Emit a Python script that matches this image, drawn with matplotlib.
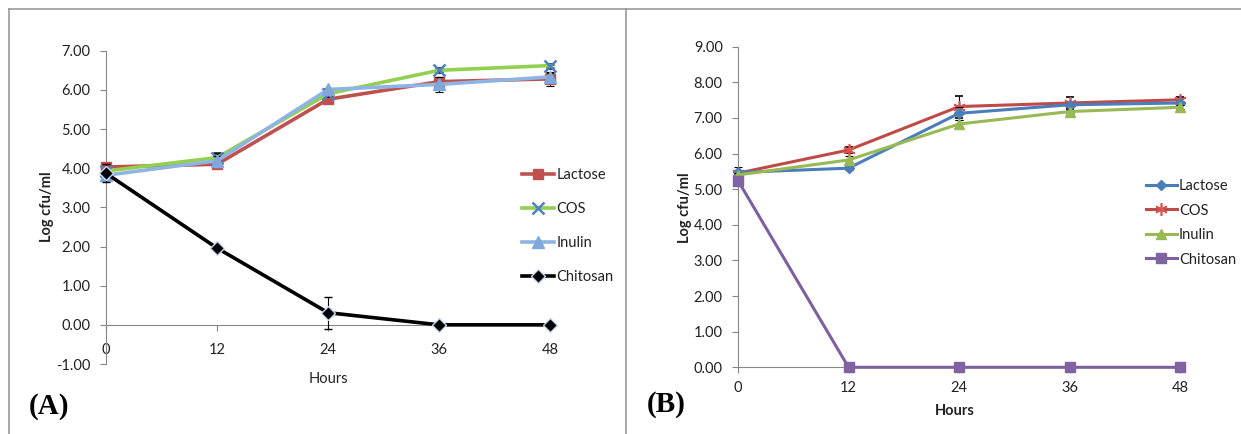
import matplotlib
matplotlib.use("Agg")
import matplotlib.pyplot as plt
from matplotlib.lines import Line2D
import numpy as np

plt.rcParams['font.family'] = ['Lato', 'DejaVu Sans']

hours = [0, 12, 24, 36, 48]
x_ticks = [0, 12, 24, 36, 48]

# Panel A
a_lactose = [4.03, 4.10, 5.76, 6.21, 6.28]
a_cos = [3.93, 4.27, 5.90, 6.50, 6.62]
a_inulin = [3.82, 4.19, 6.01, 6.14, 6.33]
a_chitosan = [3.87, 1.96, 0.31, 0.00, 0.00]
a_lactose_err = [0.05, 0.05, 0.08, 0.10, 0.18]
a_cos_err = [0.05, 0.12, 0.05, 0.05, 0.05]
a_inulin_err = [0.05, 0.12, 0.05, 0.19, 0.10]
a_chitosan_err = [0.23, 0.05, 0.41, 0.00, 0.00]
a_yticks = [-1, 0, 1, 2, 3, 4, 5, 6, 7]

# Panel B
b_lactose = [5.47, 5.59, 7.13, 7.37, 7.42]
b_cos = [5.45, 6.10, 7.32, 7.42, 7.51]
b_inulin = [5.40, 5.82, 6.83, 7.18, 7.30]
b_chitosan = [5.24, 0.00, 0.00, 0.00, 0.00]
b_lactose_err = [0.15, 0.05, 0.18, 0.05, 0.05]
b_cos_err = [0.05, 0.08, 0.31, 0.18, 0.08]
b_inulin_err = [0.05, 0.10, 0.10, 0.05, 0.05]
b_chitosan_err = [0.05, 0.0, 0.0, 0.0, 0.0]
b_yticks = [0, 1, 2, 3, 4, 5, 6, 7, 8, 9]

labels = ['Lactose', 'COS', 'Inulin', 'Chitosan']

W, H = 1241, 434
fig = plt.figure(figsize=(W / 100, H / 100), dpi=100)

def fx(px):
    return px / W

def fy(py):
    return 1 - py / H

SPINE = '#868686'
TICKFS = 10.5

def style_axes(ax, ylim, yticks, xpad):
    ax.set_xlim(0, 48.3)
    ax.set_ylim(*ylim)
    ax.set_yticks(yticks)
    ax.set_yticklabels([f"{v:.2f}" for v in yticks])
    ax.set_xticks(x_ticks)
    ax.set_xticklabels([str(v) for v in x_ticks])
    for s in ['top', 'right']:
        ax.spines[s].set_visible(False)
    ax.spines['left'].set_color(SPINE)
    ax.spines['bottom'].set_color(SPINE)
    ax.spines['left'].set_linewidth(0.8)
    ax.spines['bottom'].set_linewidth(0.8)
    ax.spines['bottom'].set_position(('data', 0))
    ax.tick_params(axis='both', direction='out', length=4, width=0.8,
                   color=SPINE, labelsize=TICKFS, labelcolor='#222222')
    ax.tick_params(axis='y', pad=7)
    ax.tick_params(axis='x', pad=xpad)
    ax.set_facecolor('none')

ekw = dict(ecolor='black', elinewidth=0.8, capsize=3, capthick=0.8)

def unclip(container):
    container[0].set_clip_on(False)
    for a in container[1]:
        a.set_clip_on(False)
    for a in container[2]:
        a.set_clip_on(False)
    return container

# ---------- Panel A ----------
axA = fig.add_axes([fx(106), fy(364), fx(553 - 106), (364 - 50.7) / H])
style_axes(axA, (-1, 7), a_yticks, 9)
lwA = 2.6
cA = []
cA.append(axA.errorbar(hours, a_lactose, yerr=a_lactose_err, color='#C0504D', lw=lwA,
             marker='s', ms=7, mfc='#C0504D', mec='#C0504D', zorder=3, **ekw))
cA.append(axA.errorbar(hours, a_cos, yerr=a_cos_err, color='#92D050', lw=lwA,
             marker='x', ms=8, mew=1.8, mec='#4F81BD', zorder=4, **ekw))
cA.append(axA.errorbar(hours, a_inulin, yerr=a_inulin_err, color='#8EB4E3', lw=lwA,
             marker='^', ms=8, mfc='#7FA7DA', mec='#7FA7DA', zorder=5, **ekw))
cA.append(axA.errorbar(hours, a_chitosan, yerr=a_chitosan_err, color='black', lw=lwA,
             marker='D', ms=7, mfc='black', mec='#C6D9F1', mew=1.0, zorder=6, **ekw))
for c in cA:
    unclip(c)

legA = fig.legend([c[0] for c in cA], labels, loc='upper left', bbox_to_anchor=(fx(522), fy(168)),
                  frameon=False, fontsize=10.5, handlelength=2.2, handletextpad=0.15,
                  labelspacing=1.38, borderpad=0, borderaxespad=0)
for t in legA.get_texts():
    t.set_color('#222222')

fig.text(fx(328), fy(379), 'Hours', ha='center', va='center', fontsize=10.5, color='#222222')
fig.text(fx(47), fy(207), 'Log cfu/ml', ha='center', va='center', rotation=90,
         fontsize=10.5, fontweight='bold', color='#222222')
fig.text(fx(49), fy(407), '(A)', ha='center', va='center', fontsize=21,
         fontweight='bold', family=['Liberation Serif', 'DejaVu Serif'])

# ---------- Panel B ----------
axB = fig.add_axes([fx(738), fy(367.3), fx(1183 - 738), 320.6 / H])
style_axes(axB, (0, 9), b_yticks, 6)
lwB = 2.2
cB = []
cB.append(axB.errorbar(hours, b_lactose, yerr=b_lactose_err, color='#4A7EBB', lw=lwB,
             marker='D', ms=5, mfc='#4A7EBB', mec='#4A7EBB', zorder=4, **ekw))
cB.append(axB.errorbar(hours, b_cos, yerr=b_cos_err, color='#BE4B48', lw=lwB,
             marker=(6, 2, 0), ms=9, mew=1.2, mec='#D9534F', zorder=3, **ekw))
cB.append(axB.errorbar(hours, b_inulin, yerr=b_inulin_err, color='#98B954', lw=lwB,
             marker='^', ms=7, mfc='#98B954', mec='#98B954', zorder=5, **ekw))
cB.append(axB.errorbar(hours, b_chitosan, yerr=b_chitosan_err, color='#7D60A0', lw=lwB,
             marker='s', ms=7, mfc='#8064A2', mec='#8064A2', zorder=6, **ekw))
for c in cB:
    unclip(c)

legB = fig.legend([c[0] for c in cB], labels, loc='upper left', bbox_to_anchor=(fx(1146), fy(179)),
                  frameon=False, fontsize=10.5, handlelength=2.1, handletextpad=0.15,
                  labelspacing=0.72, borderpad=0, borderaxespad=0)
for t in legB.get_texts():
    t.set_color('#222222')

fig.text(fx(955), fy(411), 'Hours', ha='center', va='center', fontsize=10.5,
         fontweight='bold', color='#222222')
fig.text(fx(685), fy(208), 'Log cfu/ml', ha='center', va='center', rotation=90,
         fontsize=10.5, fontweight='bold', color='#222222')
fig.text(fx(666), fy(405), '(B)', ha='center', va='center', fontsize=21,
         fontweight='bold', family=['Liberation Serif', 'DejaVu Serif'])

# Panel frames
bc = '#9A9A9A'
for (x0, x1, y0, y1) in [(8.5, 626, 8.5, 8.5), (8.5, 8.5, 8.5, 434), (626, 626, 8.5, 434),
                         (626, 1241, 8.5, 8.5)]:
    fig.add_artist(Line2D([fx(x0), fx(x1)], [fy(y0), fy(y1)], color=bc, lw=1.2,
                          transform=fig.transFigure))

fig.savefig('out.png', dpi=100)
